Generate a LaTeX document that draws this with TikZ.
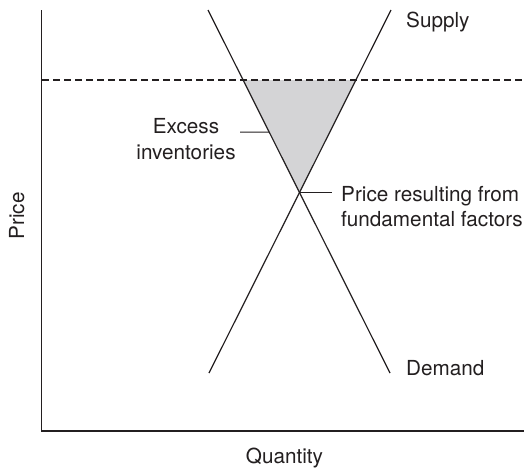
\documentclass[tikz,border=0pt]{standalone}
\usepackage{fontspec}
\setmainfont{TeX Gyre Heros}
\usetikzlibrary{calc}
\definecolor{inkc}{RGB}{35,31,32}
\definecolor{regionfill}{RGB}{212,212,214}
\tikzset{
  axisline/.style={line width=1.4pt, draw=inkc},
  curve/.style={line width=1.2pt, draw=inkc},
  leader/.style={line width=1.0pt, draw=inkc},
  guide/.style={line width=1.3pt, draw=inkc, dash pattern=on 6.5pt off 4.5pt},
  lbl/.style={text=inkc, inner sep=0pt, font=\fontsize{20.7}{25.5}\selectfont},
}
\begin{document}
\begin{tikzpicture}[x=1pt,y=-1pt]
\useasboundingbox (0,0) rectangle (524,467);
% axes
\coordinate (ytop) at (41.5,10);
\coordinate (origin) at (41.5,431);
\coordinate (xend) at (524,431);
\draw[axisline] (ytop) -- (origin) -- (xend);
% curve end points
\coordinate (dtop) at (208,10);
\coordinate (dbot) at (390,373);
\coordinate (stop) at (391,10);
\coordinate (sbot) at (209,373);
\coordinate (gl) at (42,80);
\coordinate (gr) at (524,80);
\coordinate (eq) at (intersection of dtop--dbot and stop--sbot);
\coordinate (tl) at (intersection of dtop--dbot and gl--gr);
\coordinate (tr) at (intersection of stop--sbot and gl--gr);
% shaded region
\fill[regionfill] (tl) -- (tr) -- (eq) -- cycle;
% dashed price line
\draw[guide] (gl) -- (gr);
% supply and demand
\draw[curve] (dtop) -- (dbot);
\draw[curve] (stop) -- (sbot);
% labels
\node[lbl, anchor=base west] (supply) at (406,27) {Supply};
\node[lbl, anchor=base west] (demand) at (406,375) {Demand};
\node[lbl, anchor=base] (qty) at (284.5,463) {Quantity};
\node[lbl, anchor=base, rotate=90] (price) at (24,216) {Price};
\node[lbl, align=center, anchor=center] (excess) at (186,139) {Excess\\inventories};
\node[lbl, align=left, anchor=north west] (fund) at (341,186) {Price resulting from\\fundamental factors};
% leaders
\coordinate (exs) at (240,132);
\coordinate (exe) at ($(dtop)!{(132-10)/363}!(dbot)$);
\draw[leader] (exs) -- (exe);
\coordinate (fle) at ($(eq)+(32,0)$);
\draw[leader] (eq) -- (fle);
\end{tikzpicture}
\end{document}
